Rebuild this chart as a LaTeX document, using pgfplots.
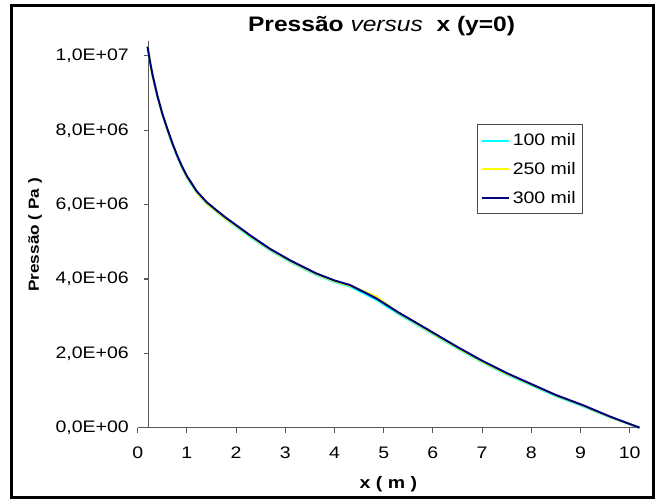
\documentclass[border=0pt]{standalone}
\usepackage{pgfplots}
\pgfplotsset{compat=1.18}
\usepackage{fontspec}
\setmainfont{Liberation Sans}
\newcommand\sx[1]{\scalebox{1.17}[1]{#1}}
\definecolor{cy}{RGB}{0,255,255}
\definecolor{ye}{RGB}{255,255,0}
\definecolor{nv}{RGB}{0,0,128}
\pgfplotstableread{
x p
0.200 10.25
0.250 9.85
0.300 9.50
0.400 8.93
0.500 8.45
0.600 8.05
0.700 7.67
0.800 7.33
0.900 7.03
1.000 6.77
1.200 6.36
1.400 6.07
1.600 5.85
1.800 5.64
2.000 5.45
2.300 5.16
2.690 4.81
3.100 4.50
3.630 4.15
4.000 3.96
4.310 3.84
4.600 3.65
4.860 3.47
5.300 3.10
5.870 2.66
6.010 2.55
6.500 2.17
6.960 1.83
7.500 1.47
8.040 1.15
8.500 0.88
9.060 0.60
9.600 0.30
10.200 0.00
}\nav
\pgfplotstableread{
x p
0.200 10.25
0.250 9.84
0.300 9.48
0.400 8.91
0.500 8.43
0.600 8.02
0.700 7.64
0.800 7.30
0.900 7.00
1.000 6.73
1.200 6.32
1.400 6.03
1.600 5.81
1.800 5.60
2.000 5.41
2.300 5.12
2.690 4.77
3.100 4.46
3.630 4.11
4.000 3.92
4.310 3.80
4.600 3.61
4.860 3.43
5.300 3.06
5.870 2.62
6.010 2.51
6.500 2.13
6.960 1.79
7.500 1.43
8.040 1.12
8.500 0.85
9.060 0.57
9.600 0.28
10.200 0.00
}\cya
\pgfplotstableread{
x p
0.200 10.25
0.250 9.85
0.300 9.49
0.400 8.92
0.500 8.44
0.600 8.04
0.700 7.66
0.800 7.32
0.900 7.01
1.000 6.75
1.200 6.33
1.400 6.04
1.600 5.82
1.800 5.61
2.000 5.43
2.300 5.14
2.690 4.79
3.100 4.48
3.630 4.13
4.000 3.94
4.310 3.82
4.600 3.67
4.860 3.52
5.300 3.09
5.870 2.64
6.010 2.53
6.500 2.15
6.960 1.81
7.500 1.45
8.040 1.14
8.500 0.87
9.060 0.59
9.600 0.29
10.200 0.00
}\yel
\begin{document}
\begin{tikzpicture}
\useasboundingbox (0pt,0pt) rectangle (491.25pt,374.25pt);
\begin{axis}[
  at={(103.275pt,53.475pt)}, anchor=south west,
  scale only axis, width=376.35pt, height=290.25pt,
  xmin=0, xmax=10.2, ymin=0, ymax=10.41,
  axis x line=bottom, axis y line=left,
  axis y line shift=-8.1pt,
  axis line style={-, draw=black!65, line width=0.8pt},
  tick style={draw=black!65, line width=0.8pt},
  tick align=outside, major tick length=3.75pt,
  xtick={0,...,10},
  xticklabels={\sx{0},\sx{1},\sx{2},\sx{3},\sx{4},\sx{5},\sx{6},\sx{7},\sx{8},\sx{9},\sx{10}},
  ytick={0,2,4,6,8,10},
  yticklabels={\sx{0,0E+00},\sx{2,0E+06},\sx{4,0E+06},\sx{6,0E+06},\sx{8,0E+06},\sx{1,0E+07}},
  ticklabel style={font=\fontsize{12.5pt}{14pt}\selectfont},
  xticklabel style={anchor=base, yshift=-19.5pt},
  yticklabel style={anchor=east, xshift=-7.5pt},
  title={\sx{\textbf{Pressão} \textit{versus} \ \textbf{x (y=0)}}},
  title style={at={(0.486,1.004)}, anchor=base, font=\fontsize{15.75pt}{18pt}\selectfont, inner sep=0pt},
  xlabel={\sx{\textbf{x ( m )}}},
  xlabel style={at={(0.4994,-0.158)}, anchor=base, font=\fontsize{12.5pt}{14pt}\selectfont, inner sep=0pt},
  ylabel={\sx{\textbf{Pressão ( Pa )}}},
  ylabel style={at={(-0.2047,0.498)}, anchor=center, font=\fontsize{11pt}{13pt}\selectfont, inner sep=0pt},
  legend style={at={(0.676,0.784)}, anchor=north west, draw=black!70, line width=0.8pt,
    font=\fontsize{12.5pt}{14pt}\selectfont, row sep=7pt, inner xsep=3pt, inner ysep=4.5pt},
  legend cell align=left,
  legend image code/.code={\draw[#1] (0pt,0pt) -- (18pt,0pt); \path (0pt,0pt) -- (20pt,0pt);},
  clip=false,
]
\addplot[cy, line width=1.5pt] table[x=x,y=p] {\cya};
\addlegendentry{\sx{100 mil}}
\addplot[ye, line width=1.5pt] table[x=x,y=p] {\yel};
\addlegendentry{\sx{250 mil}}
\addplot[nv, line width=1.5pt] table[x=x,y=p] {\nav};
\addlegendentry{\sx{300 mil}}
\end{axis}
\draw[line width=2.25pt] (8.775pt,1.5pt) rectangle (489.975pt,370.275pt);
\end{tikzpicture}
\end{document}
